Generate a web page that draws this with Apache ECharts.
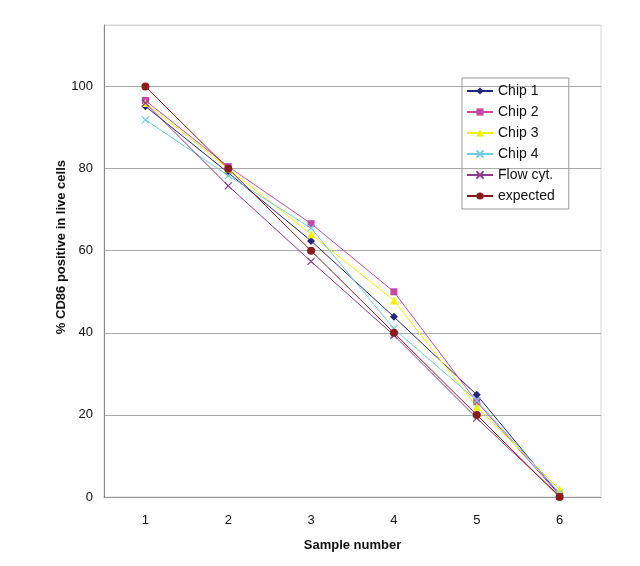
<!DOCTYPE html>
<html><head><meta charset="utf-8">
<script src="https://cdn.jsdelivr.net/npm/echarts@6/dist/echarts.min.js"></script>
<style>html,body{margin:0;padding:0;background:#fff}#c{width:640px;height:566px}</style>
</head><body><div id="c"></div>
<script>
var categories = ['1','2','3','4','5','6'];
var chip1 = [95.2, 79, 62.4, 43.9, 24.9, 0.5];
var chip2 = [96.6, 80.5, 66.6, 50.0, 23.2, 0.4];
var chip3 = [96, 80, 64, 47.9, 22, 1.8];
var chip4 = [91.9, 78.3, 65.5, 41, 23.5, 1];
var flow = [96, 75.8, 57.4, 39.4, 19.2, 0.2];
var expected = [100, 80, 60, 40, 20, 0];
var seriesNames = ['Chip 1','Chip 2','Chip 3','Chip 4','Flow cyt.','expected'];
var yTicks = [0, 20, 40, 60, 80, 100];

var xPath = 'path://M0,0L10,10M10,0L0,10';
function mk(name, data, color, symbol, size, stroke) {
  return {
    name: name, type: 'line', data: data, symbol: symbol, symbolSize: size,
    lineStyle: {color: color, width: 1}, itemStyle: stroke ? {color: 'none', borderColor: color, borderWidth: 1.2} : {color: color},
    emphasis: {disabled: true}, animation: false
  };
}
var chart = echarts.init(document.getElementById('c'), null, {renderer: 'canvas'});
chart.setOption({
  backgroundColor: '#fff',
  textStyle: {fontFamily: 'Liberation Sans, Arial, sans-serif'},
  grid: {left: 104, right: 39, top: 25, bottom: 69, show: true, borderColor: '#d6d6d6', borderWidth: 1},
  legend: {
    orient: 'vertical', left: 462, top: 78, data: seriesNames,
    itemWidth: 26, itemHeight: 9, itemGap: 7,
    padding: [6, 14, 6, 4], borderColor: '#999', borderWidth: 1,
    textStyle: {fontSize: 14, color: '#111', fontFamily: 'Liberation Sans, Arial, sans-serif'}
  },
  xAxis: {
    type: 'category', data: categories, boundaryGap: true,
    axisLine: {lineStyle: {color: '#999'}},
    axisTick: {inside: true, length: 5, lineStyle: {color: '#999'}},
    axisLabel: {fontSize: 13, color: '#111', margin: 17},
    name: 'Sample number', nameLocation: 'middle', nameGap: 42,
    nameTextStyle: {fontSize: 13, fontWeight: 'bold', color: '#111'}
  },
  yAxis: {
    type: 'value', min: 0, max: 115, interval: 20,
    axisLine: {show: true, lineStyle: {color: '#888'}},
    axisTick: {show: false},
    axisLabel: {fontSize: 13, color: '#111', margin: 11, formatter: function (v) { return yTicks.indexOf(v) >= 0 ? String(v) : ''; }},
    splitLine: {lineStyle: {color: ['#aaa','#aaa','#aaa','#aaa','#aaa','#aaa','#d6d6d6'], width: 1}}
  },
  graphic: [{
    type: 'text', left: 55, top: 160, rotation: Math.PI / 2, 
    style: {text: '% CD86 positive in live cells', fontSize: 13, fontWeight: 'bold', fill: '#111', fontFamily: 'Liberation Sans, Arial, sans-serif'}
  }],
  series: [
    mk('Chip 1', chip1, '#25287a', 'diamond', 8, false),
    mk('Chip 2', chip2, '#c34aa9', 'rect', 7, false),
    mk('Chip 3', chip3, '#f2f200', 'triangle', 8, false),
    mk('Chip 4', chip4, '#70cde0', xPath, 7, true),
    mk('Flow cyt.', flow, '#8e3a8e', xPath, 7, true),
    mk('expected', expected, '#8b1c1c', 'circle', 8, false)
  ]
});
</script></body></html>
